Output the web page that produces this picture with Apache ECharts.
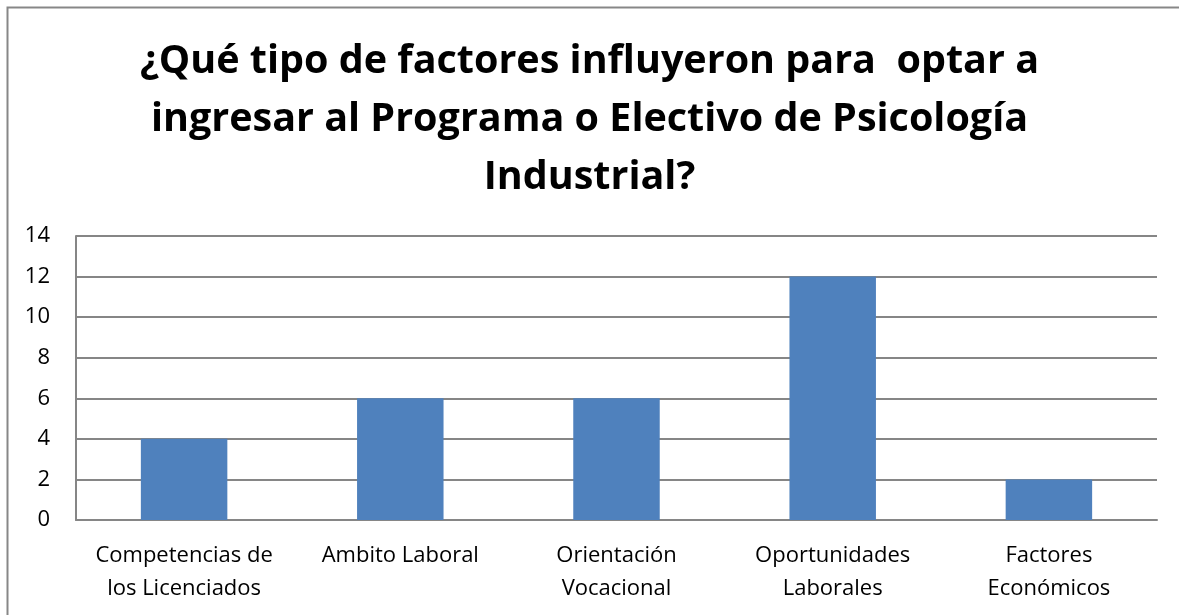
<!DOCTYPE html>
<html>
<head>
<meta charset="UTF-8">
<title>Factores</title>
<script type="text/javascript" src="https://cdn.jsdelivr.net/npm/echarts@6/dist/echarts.min.js"></script>
<style>
  body{margin:0;background:#fff}
</style>
</head>
<body>
<div id="main" style="width:1179px;height:615px"></div>
<script type="text/javascript">
	var categorias = ['Competencias de\nlos Licenciados', 'Ambito Laboral', 'Orientación\nVocacional', 'Oportunidades\nLaborales', 'Factores\nEconómicos'];
	var valores = [4, 6, 6, 12, 2];
	var titulo = '¿Qué tipo de factores influyeron para  optar a\ningresar al Programa o Electivo de Psicología\nIndustrial?';

	var myEcharts = echarts.init(document.getElementById('main'));

	var option = {
	    animation: false,
	    graphic: [{
	        type: 'rect',
	        shape: {x: 7.5, y: 7.5, width: 1300, height: 700},
	        style: {fill: 'none', stroke: '#878787', lineWidth: 2}
	    }],
	    title: {
	        text: titulo,
	        left: 'center',
	        top: 28,
	        padding: [5, 5, 5, 19],
	        textStyle: {
	            fontFamily: 'Open Sans',
	            fontSize: 39.5,
	            fontWeight: 'bold',
	            color: '#000',
	            lineHeight: 58
	        }
	    },
	    grid: {
	        left: 76,
	        right: 22,
	        top: 236,
	        bottom: 95
	    },
	    xAxis: {
	        type: 'category',
	        data: categorias,
	        axisTick: {show: false},
	        axisLine: {lineStyle: {color: '#868686', width: 2}},
	        axisLabel: {
	            color: '#000',
	            fontFamily: 'Open Sans',
	            fontSize: 22,
	            lineHeight: 33,
	            margin: 19,
	            interval: 0
	        }
	    },
	    yAxis: {
	        type: 'value',
	        min: 0,
	        max: 14,
	        interval: 2,
	        axisLine: {show: true, lineStyle: {color: '#868686', width: 2}},
	        axisTick: {show: false},
	        splitLine: {lineStyle: {color: '#868686', width: 2}},
	        axisLabel: {
	            color: '#000',
	            fontFamily: 'Open Sans',
	            fontSize: 22,
	            margin: 26
	        }
	    },
	    series: [{
	        type: 'bar',
	        data: valores,
	        barWidth: '40%',
	        itemStyle: {color: '#4F81BD'}
	    }]
	};

	myEcharts.setOption(option);
</script>
</body>
</html>
